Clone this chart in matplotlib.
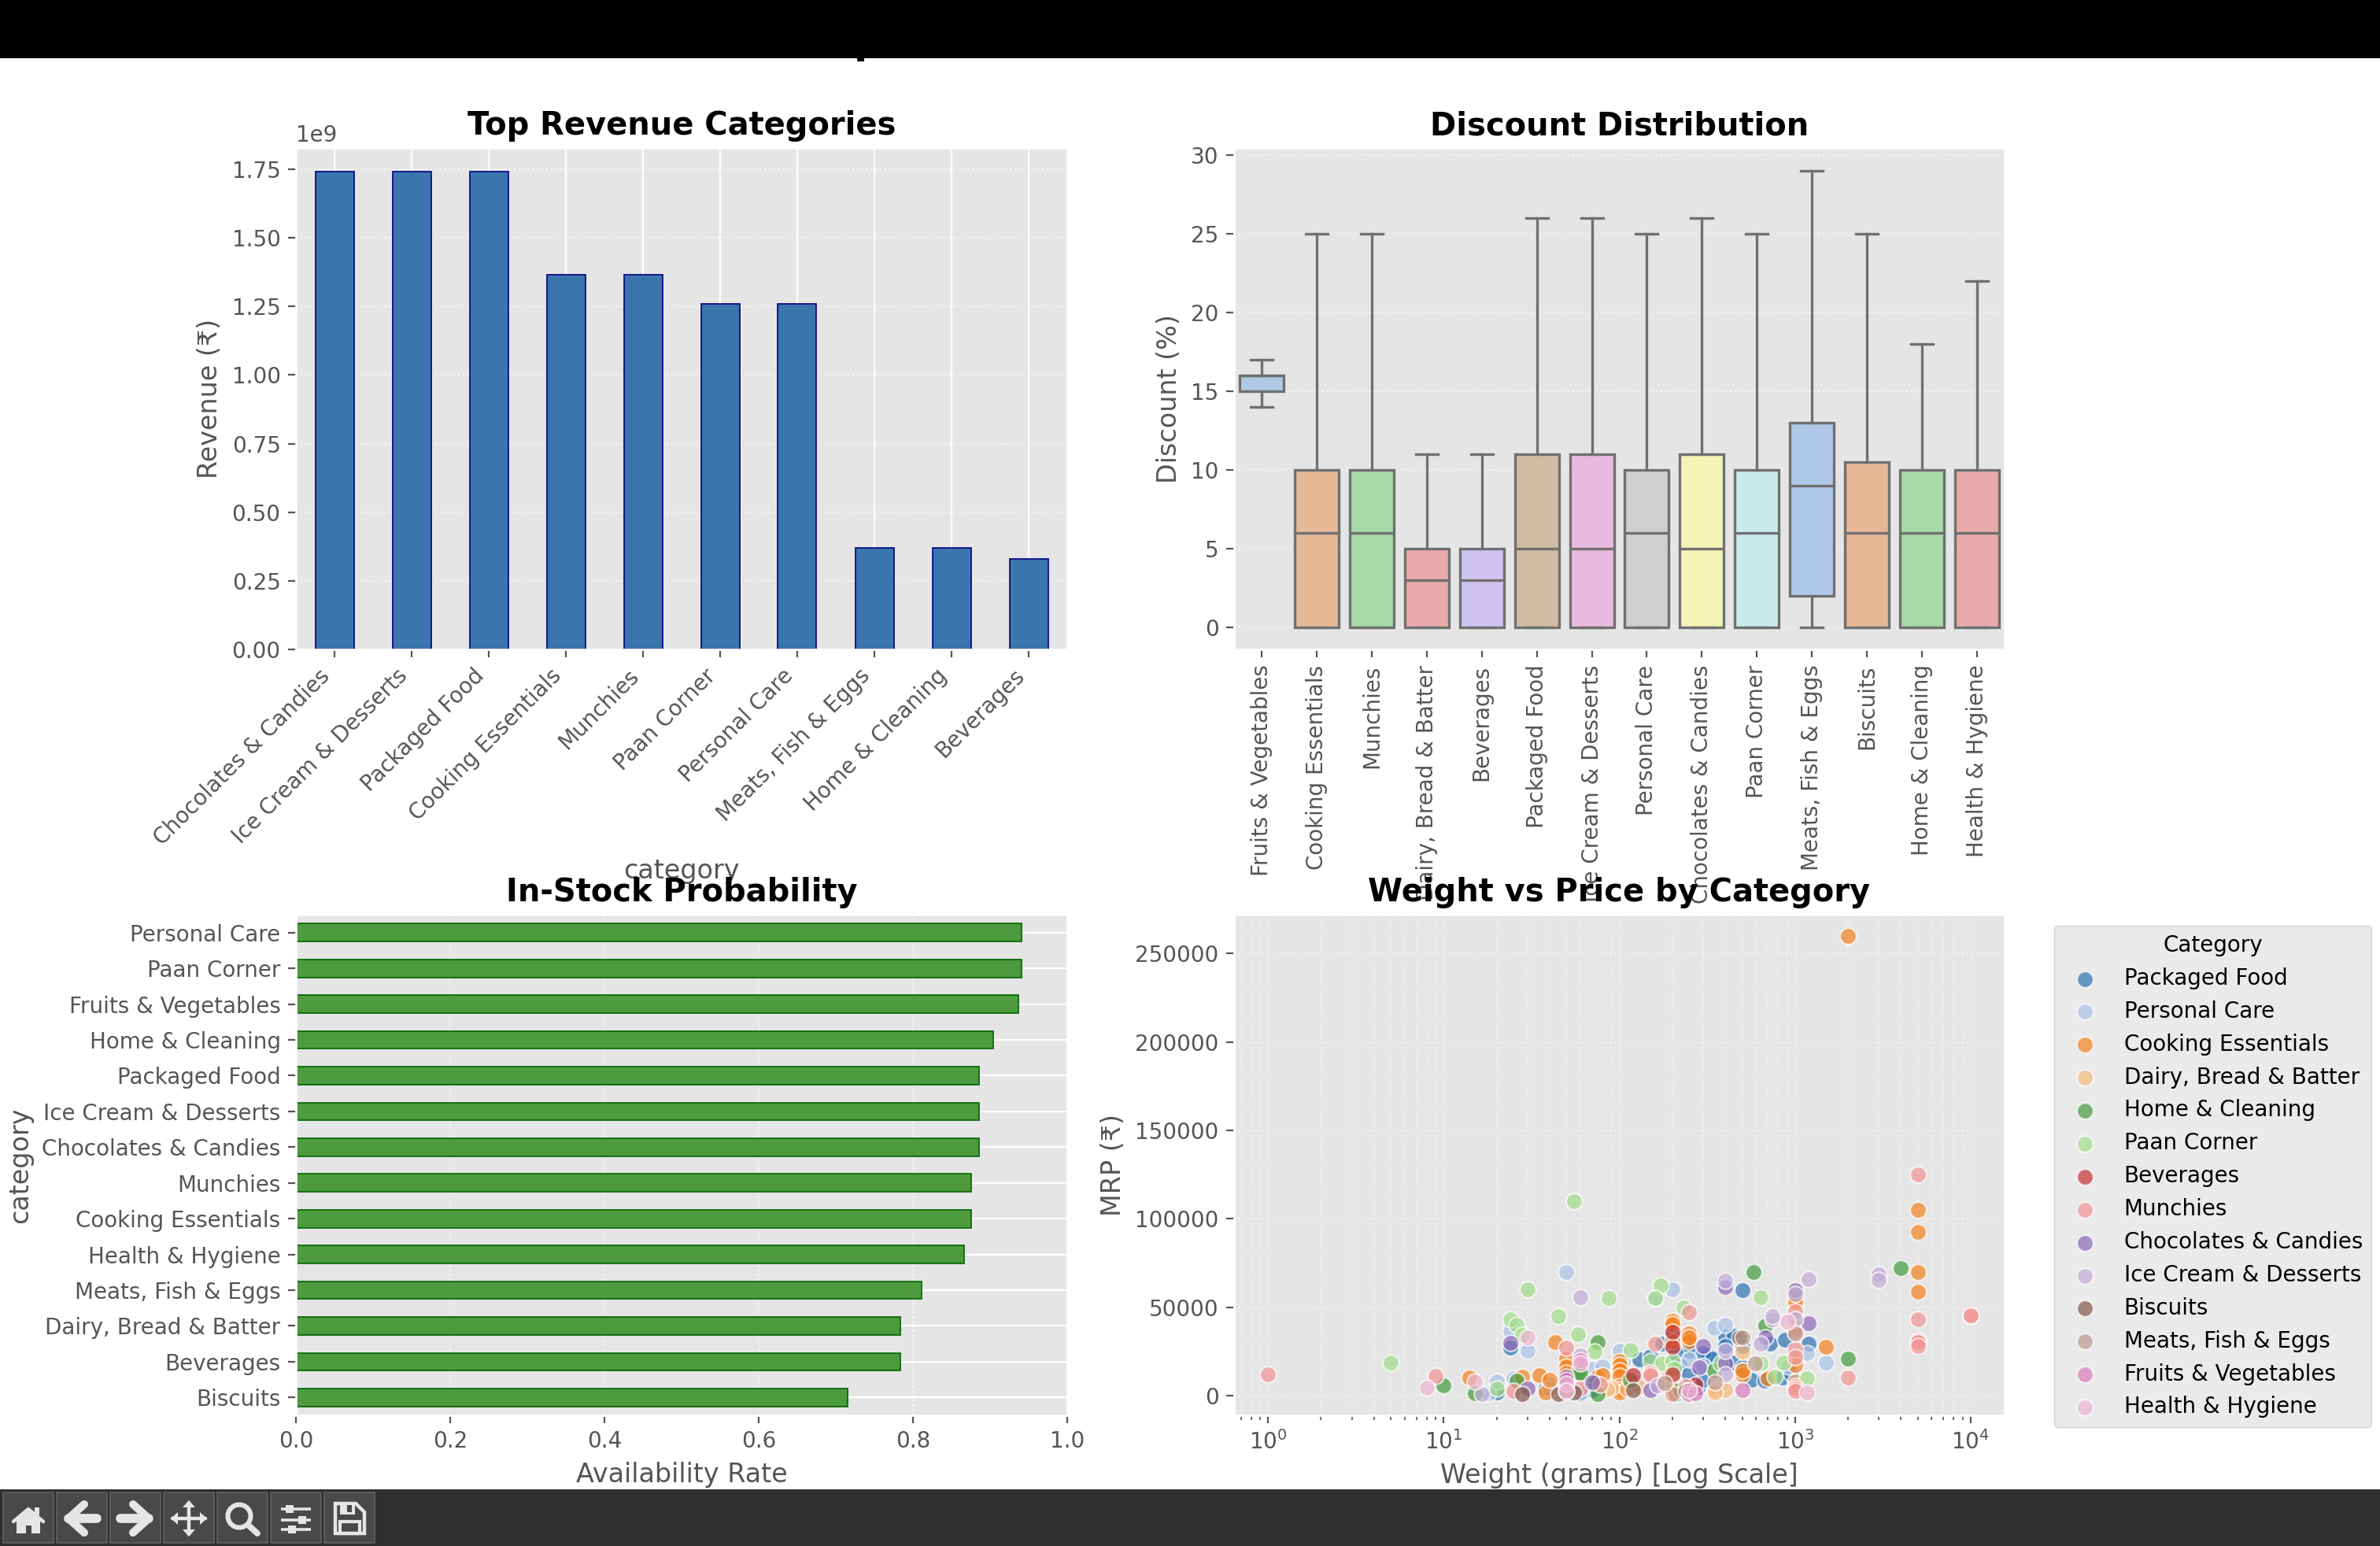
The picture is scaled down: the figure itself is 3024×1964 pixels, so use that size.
import matplotlib
matplotlib.use("Agg")
import matplotlib.pyplot as plt
from matplotlib.patches import Rectangle, Circle, Polygon

# Top revenue categories
revenue_categories = ["Chocolates & Candies", "Ice Cream & Desserts", "Packaged Food", "Cooking Essentials",
                      "Munchies", "Paan Corner", "Personal Care", "Meats, Fish & Eggs", "Home & Cleaning", "Beverages"]
revenue_values = [1.74e9, 1.74e9, 1.74e9, 1.365e9, 1.365e9, 1.26e9, 1.26e9, 0.37e9, 0.37e9, 0.33e9]

# Discount boxes, five-number summaries
box_categories = ["Fruits & Vegetables", "Cooking Essentials", "Munchies", "Dairy, Bread & Batter", "Beverages",
                  "Packaged Food", "Ice Cream & Desserts", "Personal Care", "Chocolates & Candies", "Paan Corner",
                  "Meats, Fish & Eggs", "Biscuits", "Home & Cleaning", "Health & Hygiene"]
box_low = [14, 0, 0, 0, 0, 0, 0, 0, 0, 0, 0, 0, 0, 0]
box_q1 = [15, 0, 0, 0, 0, 0, 0, 0, 0, 0, 2, 0, 0, 0]
box_median = [16, 6, 6, 3, 3, 5, 5, 6, 5, 6, 9, 6, 6, 6]
box_q3 = [16, 10, 10, 5, 5, 11, 11, 10, 11, 10, 13, 10.5, 10, 10]
box_high = [17, 25, 25, 11, 11, 26, 26, 25, 26, 25, 29, 25, 18, 22]
box_colors = ["#AFC8E8", "#E6B896", "#A6DAA8", "#E9ABA9", "#CFC3F1", "#D2BBA4", "#E9BADF",
              "#CFCFCF", "#F3F3B5", "#C9EAEA", "#AFC8E8", "#E6B896", "#A6DAA8", "#E9ABA9"]

# In-stock probability, bottom bar first
stock_categories = ["Biscuits", "Beverages", "Dairy, Bread & Batter", "Meats, Fish & Eggs", "Health & Hygiene",
                    "Cooking Essentials", "Munchies", "Chocolates & Candies", "Ice Cream & Desserts", "Packaged Food",
                    "Home & Cleaning", "Fruits & Vegetables", "Paan Corner", "Personal Care"]
stock_values = [0.715, 0.784, 0.784, 0.811, 0.866, 0.876, 0.876, 0.886, 0.886, 0.886, 0.904, 0.937, 0.941, 0.941]

# Weight vs price points per category
packaged_w = [24, 20, 38, 40, 60, 70, 130, 175, 200, 200, 250, 280, 320, 400, 450, 445, 500, 500, 560, 670, 720, 875, 850, 950, 1200, 210, 300, 340, 220, 250, 400, 300, 150, 500]
packaged_p = [27200, 1600, 3900, 4600, 900, 3100, 20200, 29200, 33600, 9800, 25400, 4300, 22500, 33200, 33600, 18700, 15800, 59700, 9000, 8300, 29200, 31400, 10300, 12500, 29200, 24000, 24000, 21000, 17000, 12000, 28000, 9000, 22000, 28000]
personal_w = [18, 20, 24, 25, 30, 40, 50, 70, 80, 100, 125, 160, 200, 250, 345, 400, 920, 1170, 1500, 40, 60, 300, 500, 105]
personal_p = [1200, 8000, 36300, 9800, 25100, 6800, 70000, 15000, 16500, 25400, 7600, 55200, 60100, 20200, 38100, 39900, 16500, 24000, 18700, 4000, 1500, 17000, 14000, 19000]
cooking_w = [14, 28, 35, 38, 40, 43, 50, 50, 50, 75, 80, 100, 100, 100, 100, 100, 100, 100, 200, 200, 200, 200, 250, 250, 500, 700, 1000, 1000, 1000, 1000, 1500, 2000, 5000, 5000, 5000, 5000, 500, 200, 250]
cooking_p = [10100, 10500, 11300, 1600, 9000, 30200, 21000, 16500, 13000, 10500, 11300, 19500, 17300, 14300, 11000, 5400, 3500, 1500, 42300, 40300, 30650, 5400, 35100, 30600, 12000, 9800, 55200, 53000, 38800, 17300, 27700, 260000, 105000, 92500, 70000, 58500, 14000, 4000, 32800]
dairy_w = [90, 85, 110, 190, 350, 400, 500, 1000, 130, 350]
dairy_p = [4600, 3500, 4000, 11000, 3100, 3100, 24700, 8000, 5000, 1500]
home_w = [10, 15, 26, 58, 60, 72, 75, 75, 210, 345, 580, 680, 2000, 4000, 115, 220]
home_p = [5650, 1300, 8600, 12800, 13000, 7000, 30000, 1000, 1000, 14300, 70000, 39600, 21000, 72000, 9000, 3000]
paan_w = [5, 20, 24, 26, 28, 30, 45, 55, 58, 72, 87, 116, 150, 172, 175, 200, 205, 232, 375, 640, 640, 770, 860, 1170, 160]
paan_p = [18500, 3900, 43300, 39900, 34000, 60000, 45100, 110000, 34700, 24700, 55200, 25900, 19500, 62200, 18000, 19500, 15000, 50000, 18000, 55600, 18000, 10600, 18700, 9800, 55200]
beverages_w = [120, 200, 200, 200, 270]
beverages_p = [11300, 27700, 36000, 12000, 6000]
munchies_w = [1, 9, 25, 50, 60, 78, 150, 150, 160, 200, 240, 250, 1000, 1000, 1000, 1000, 1000, 1000, 1000, 2000, 5000, 5000, 5000, 5000, 5000, 10000, 10000]
munchies_p = [11900, 11000, 2400, 27000, 3900, 6100, 12800, 11300, 29500, 900, 5400, 47000, 47800, 35900, 26200, 21700, 5400, 3900, 2400, 10000, 125000, 43000, 31000, 30000, 28000, 45000, 45500]
chocolates_w = [24, 30, 50, 70, 150, 285, 300, 400, 680, 1000, 1200, 400]
chocolates_p = [29900, 3900, 10500, 7600, 3100, 15800, 28000, 61200, 32900, 59700, 41000, 18000]
icecream_w = [16.5, 60, 165, 400, 400, 400, 640, 745, 745, 1000, 1000, 1200, 3000, 3000, 60]
icecream_p = [900, 55700, 5650, 64900, 25100, 12000, 29200, 43300, 44800, 57400, 43300, 66000, 68500, 65500, 22800]
biscuits_w = [28, 45, 120, 55, 240, 480]
biscuits_p = [900, 900, 3100, 1800, 2500, 33000]
meats_w = [50, 350, 500, 590, 1000, 180]
meats_p = [2400, 7600, 32900, 18000, 35000, 7000]
fruits_w = [60, 250, 500, 50, 270]
fruits_p = [20000, 900, 3100, 9000, 1200]
health_w = [8, 15, 30, 50, 50, 900, 1170, 60, 250]
health_p = [4300, 7900, 32900, 6800, 2400, 41800, 1600, 18000, 3000]

scatter_names = ["Packaged Food", "Personal Care", "Cooking Essentials", "Dairy, Bread & Batter", "Home & Cleaning",
                 "Paan Corner", "Beverages", "Munchies", "Chocolates & Candies", "Ice Cream & Desserts", "Biscuits",
                 "Meats, Fish & Eggs", "Fruits & Vegetables", "Health & Hygiene"]
scatter_weights = [packaged_w, personal_w, cooking_w, dairy_w, home_w, paan_w, beverages_w, munchies_w,
                   chocolates_w, icecream_w, biscuits_w, meats_w, fruits_w, health_w]
scatter_prices = [packaged_p, personal_p, cooking_p, dairy_p, home_p, paan_p, beverages_p, munchies_p,
                  chocolates_p, icecream_p, biscuits_p, meats_p, fruits_p, health_p]
scatter_colors = ["#2E74B1", "#AAC2E6", "#F3821E", "#F6BA7C", "#439C3C", "#A3DD8B", "#C43232",
                  "#F09593", "#8D67B8", "#C2AED6", "#83594A", "#BD9A8F", "#D97CBF", "#EDB5D2"]

plt.style.use("ggplot")
plt.rcParams["font.family"] = ["DejaVu Sans"]
W, H = 3024, 1964
TICK = 10
LABEL = 12
TITLE = 14.4


def axes_at(fig, left, top, right, bottom):
    return fig.add_axes([left / W, 1 - bottom / H, (right - left) / W, (bottom - top) / H])


fig = plt.figure(figsize=(W / 200, H / 200), dpi=200, facecolor="white")

# clipped suptitle, only the descender shows under the window bar
fig.text(1085 / W, 1 - 68 / H, "p", fontsize=18, fontweight="bold", color="black", va="baseline", ha="left", zorder=1)

# revenue bars
ax1 = axes_at(fig, 376, 188, 1356, 825)
ax1.bar(range(len(revenue_values)), revenue_values, width=0.5, color="#3A75AE", edgecolor="navy", linewidth=0.6)
ax1.set_xlim(-0.5, 9.5)
ax1.set_ylim(0, 1.827e9)
ax1.set_xticks(range(len(revenue_categories)))
ax1.set_xticklabels(revenue_categories, rotation=45, ha="right", fontsize=TICK)
ax1.tick_params(axis="y", labelsize=TICK)
ax1.yaxis.get_offset_text().set_fontsize(TICK)
ax1.grid(axis="y", linestyle=":", alpha=0.6)
ax1.set_title("Top Revenue Categories", fontsize=TITLE, fontweight="bold", color="black")
ax1.set_xlabel("category", fontsize=LABEL)
ax1.set_ylabel("Revenue (₹)", fontsize=LABEL)

# discount boxes
ax2 = axes_at(fig, 1568, 188, 2547, 825)
box_stats = []
for i, name in enumerate(box_categories):
    box_stats.append({"label": name, "whislo": box_low[i], "q1": box_q1[i], "med": box_median[i],
                      "q3": box_q3[i], "whishi": box_high[i], "fliers": []})
line_style = {"color": "#707070", "linewidth": 1.2}
parts = ax2.bxp(box_stats, positions=range(14), widths=0.8, patch_artist=True, showfliers=False,
                boxprops={"edgecolor": "#707070", "linewidth": 1.2}, medianprops=line_style,
                whiskerprops=line_style, capprops=line_style)
for box, color in zip(parts["boxes"], box_colors):
    box.set_facecolor(color)
ax2.set_xlim(-0.5, 13.5)
ax2.set_ylim(-1.4, 30.45)
ax2.set_yticks([0, 5, 10, 15, 20, 25, 30])
ax2.set_xticks(range(14))
ax2.set_xticklabels(box_categories, rotation=90, fontsize=TICK)
ax2.tick_params(axis="y", labelsize=TICK)
ax2.grid(False)
ax2.grid(axis="y", linestyle=":", alpha=0.6)
ax2.set_title("Discount Distribution", fontsize=TITLE, fontweight="bold", color="black")
ax2.set_ylabel("Discount (%)", fontsize=LABEL)

# in-stock bars
ax3 = axes_at(fig, 376, 1162, 1356, 1798)
ax3.barh(range(len(stock_values)), stock_values, height=0.5, color="#4E9A3E", edgecolor="darkgreen", linewidth=0.6)
ax3.set_xlim(0, 1)
ax3.set_ylim(-0.5, 13.5)
ax3.set_yticks(range(len(stock_categories)))
ax3.set_yticklabels(stock_categories, fontsize=TICK)
ax3.tick_params(axis="x", labelsize=TICK)
ax3.grid(axis="x", linestyle=":", alpha=0.6)
ax3.set_title("In-Stock Probability", fontsize=TITLE, fontweight="bold", color="black")
ax3.set_xlabel("Availability Rate", fontsize=LABEL)
ax3.set_ylabel("category", fontsize=LABEL)

# weight vs price
ax4 = axes_at(fig, 1568, 1162, 2547, 1798)
for i, name in enumerate(scatter_names):
    ax4.scatter(scatter_weights[i], scatter_prices[i], s=55, color=scatter_colors[i], alpha=0.7,
                edgecolor="white", linewidth=0.75, label=name)
ax4.set_xscale("log")
ax4.set_xlim(0.64, 15600)
ax4.set_ylim(-11200, 272000)
ax4.tick_params(axis="both", labelsize=TICK)
ax4.grid(True, which="both", linestyle=":", alpha=0.4)
ax4.set_title("Weight vs Price by Category", fontsize=TITLE, fontweight="bold", color="black")
ax4.set_xlabel("Weight (grams) [Log Scale]", fontsize=LABEL)
ax4.set_ylabel("MRP (₹)", fontsize=LABEL)
ax4.legend(title="Category", loc="upper left", bbox_to_anchor=(1.05, 1.0), fontsize=TICK, title_fontsize=TICK,
           frameon=True)

# window chrome drawn in pixel coordinates
chrome = fig.add_axes([0, 0, 1, 1], zorder=10)
chrome.set_xlim(0, W)
chrome.set_ylim(H, 0)
chrome.axis("off")
chrome.patch.set_alpha(0)
chrome.add_patch(Rectangle((0, 0), W, 74, color="black", lw=0))
chrome.add_patch(Rectangle((0, 1892), W, 72, color="#302F2D", lw=0))
ICON = "#E5E5E5"
centers = [36, 104, 172, 240, 308, 376, 444]
for cx in centers:
    chrome.add_patch(Rectangle((cx - 32, 1896), 64, 64, facecolor="#4A4947", edgecolor="#62615F", lw=0.6))


def stroke(xs, ys, lw=3.4, cap="round"):
    chrome.plot(xs, ys, color=ICON, lw=lw, solid_capstyle=cap, solid_joinstyle="round")


# home
chrome.add_patch(Polygon([(21, 1948), (21, 1927), (36, 1919), (51, 1927), (51, 1948), (40, 1948), (40, 1938),
                          (33, 1938), (33, 1948)], color=ICON, lw=0))
stroke([17, 36, 55], [1933, 1917, 1933], lw=1.6)
chrome.add_patch(Rectangle((44, 1915), 6, 10, color=ICON, lw=0))
# back and forward
stroke([123, 87], [1929, 1929], lw=4.2)
stroke([107, 87, 107], [1911, 1929, 1947], lw=3.6)
stroke([153, 189], [1929, 1929], lw=4.2)
stroke([169, 189, 169], [1911, 1929, 1947], lw=3.6)
# move
stroke([219, 261], [1929, 1929], lw=1.6)
stroke([240, 240], [1909, 1949], lw=1.6)
chrome.add_patch(Polygon([(217, 1929), (226, 1921), (226, 1937)], color=ICON, lw=0))
chrome.add_patch(Polygon([(263, 1929), (254, 1921), (254, 1937)], color=ICON, lw=0))
chrome.add_patch(Polygon([(240, 1906), (232, 1915), (248, 1915)], color=ICON, lw=0))
chrome.add_patch(Polygon([(240, 1952), (232, 1943), (248, 1943)], color=ICON, lw=0))
# zoom
chrome.add_patch(Circle((304, 1926), 14.5, facecolor="none", edgecolor=ICON, lw=2.2))
stroke([316, 327], [1938, 1948], lw=2.8)
# sliders
for y, knob in zip([1917, 1931, 1943], [368, 384, 371]):
    stroke([357, 395], [y, y], lw=1.3, cap="butt")
    chrome.add_patch(Rectangle((knob - 5, y - 5), 10, 10, color=ICON, lw=0))
# save
chrome.add_patch(Polygon([(426, 1910), (452, 1910), (463, 1921), (463, 1948), (426, 1948)], facecolor="none",
                         edgecolor=ICON, lw=1.6))
chrome.add_patch(Rectangle((432, 1910), 19, 14, facecolor=ICON, lw=0))
chrome.add_patch(Rectangle((441, 1912), 6, 9, facecolor="#4A4947", lw=0))
chrome.add_patch(Rectangle((432, 1933), 25, 15, facecolor="none", edgecolor=ICON, lw=1.5))

fig.savefig("out.png", dpi=200, facecolor="white")
